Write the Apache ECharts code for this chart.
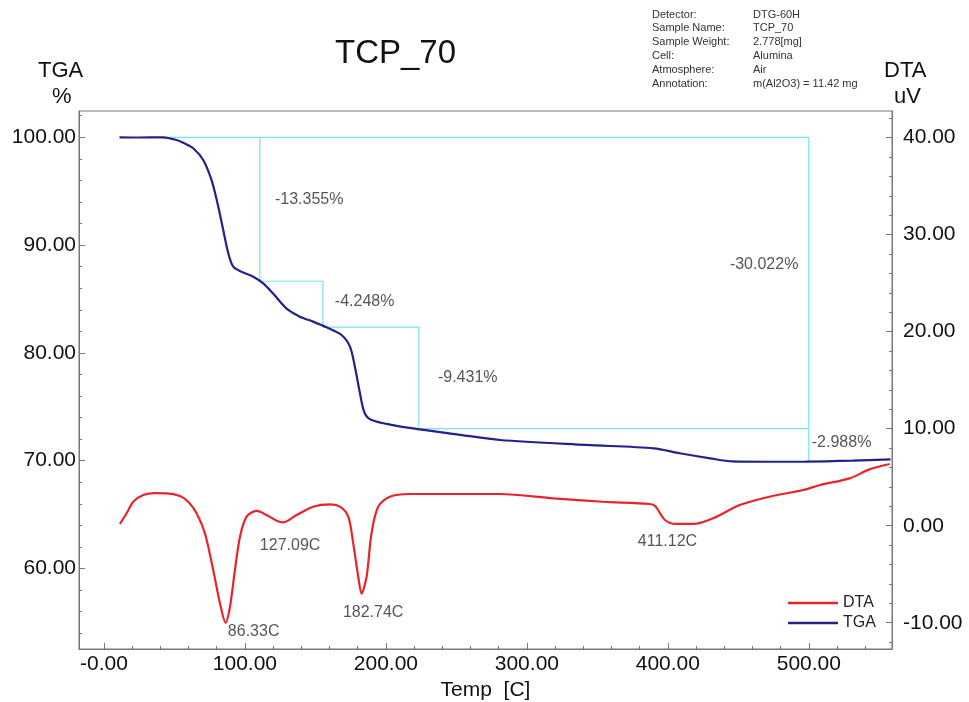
<!DOCTYPE html>
<html>
<head>
<meta charset="utf-8">
<title>TCP_70</title>
<script src="https://cdn.jsdelivr.net/npm/echarts@6/dist/echarts.min.js"></script>
<style>
  html, body { margin: 0; padding: 0; background: #fff; }
  #chart { width: 969px; height: 702px; }
</style>
</head>
<body>
<div id="chart"></div>
<script>
// TGA curve: temperature [C] / mass [%]
const tgaTemp = [11, 25, 42, 51.5, 57, 63.3, 70.4, 76.4, 81.1, 84.6, 88.2, 91.7, 97.6, 105.9, 113, 120,
  129.6, 139, 148.4, 157.9, 168.5, 174.5, 178, 181.6, 185, 189.9, 205, 224, 252.5, 281, 342, 390,
  408.5, 430, 446, 470, 498, 531, 558]
const tgaValue = [100.0, 99.98, 100.0, 99.75, 99.45, 98.98, 97.9, 96.0, 93.56, 91.4, 89.24, 88.0, 87.53,
  87.07, 86.45, 85.5, 84.1, 83.36, 82.9, 82.37, 81.66, 80.58, 78.72, 76.25, 74.4, 73.77, 73.3, 72.9,
  72.4, 71.92, 71.46, 71.15, 70.69, 70.22, 69.93, 69.9, 69.91, 70.0, 70.13]

// DTA curve: temperature [C] / signal [uV]
const dtaTemp = [11.3, 16.1, 20.8, 27.9, 36, 44.5, 53.9, 59.8, 65.7, 71.6, 77.5, 82.3, 86.3, 89.4, 92.9,
  96.5, 101.2, 108.3, 115.4, 122.5, 127.1, 136.7, 148.4, 160.3, 167.4, 173.3, 176.8, 180.4, 182.7,
  186.3, 189.8, 194.5, 202.8, 217, 250, 281, 319, 354, 387, 391, 398, 406, 418, 432, 451, 472, 496,
  508, 529, 543, 557.4]
const dtaValue = [0.18, 1.28, 2.47, 3.16, 3.35, 3.34, 3.06, 2.47, 1.28, -0.78, -4.57, -8.0, -10.0, -8.35,
  -4.57, -1.13, 0.93, 1.52, 1.1, 0.52, 0.35, 1.1, 1.96, 2.2, 1.96, 0.93, -1.8, -5.26, -7.0, -5.26,
  -0.78, 1.96, 2.99, 3.27, 3.27, 3.27, 2.82, 2.47, 2.24, 2.03, 0.59, 0.18, 0.18, 0.76, 2.13, 2.99,
  3.68, 4.2, 4.88, 5.81, 6.36]

// mass-loss steps (cyan baselines)
const stepStartTemp = 42
const stepTemps = [110.6, 155.3, 223.4, 500]
const stepLosses = [13.355, 4.248, 9.431, 2.988]
const totalLoss = 30.022

// text annotations
const lossLabels = ['-13.355%', '-4.248%', '-9.431%', '-30.022%', '-2.988%']
const lossLabelPos = [[121.3, 94.18], [163.8, 84.72], [236.9, 77.67], [444, 88.15], [502.1, 71.64]]
const peakLabels = ['86.33C', '127.09C', '182.74C', '411.12C']
const peakLabelPos = [[87.9, -10.96], [110.6, -2.09], [169.5, -9.0], [378.7, -1.68]]

// axis ticks
const xTicks = [0, 100, 200, 300, 400, 500]
const xTickLabels = ['-0.00', '100.00', '200.00', '300.00', '400.00', '500.00']
const tgaTicks = [60, 70, 80, 90, 100]
const tgaTickLabels = ['60.00', '70.00', '80.00', '90.00', '100.00']
const dtaTicks = [-10, 0, 10, 20, 30, 40]
const dtaTickLabels = ['-10.00', '0.00', '10.00', '20.00', '30.00', '40.00']

const X_MIN = -17.7, X_MAX = 559
const TGA_MIN = 52.53, TGA_MAX = 102.44
const DTA_MIN = -12.71, DTA_MAX = 42.75

const info = [
  ['Detector:', 'DTG-60H'],
  ['Sample Name:', 'TCP_70'],
  ['Sample Weight:', '2.778[mg]'],
  ['Cell:', 'Alumina'],
  ['Atmosphere:', 'Air'],
  ['Annotation:', 'm(Al2O3) = 11.42 mg']
]

function minorList(min, max, step) {
  const out = []
  for (let v = Math.ceil(min / step) * step; v <= max; v += step) out.push(+v.toFixed(4))
  return out
}

const zip = (a, b) => a.map((v, i) => [v, b[i]])

// step levels
const levels = [100]
stepLosses.slice(0, 3).forEach((l, i) => levels.push(+(levels[i] - l).toFixed(3)))
const finalLevel = +(100 - totalLoss).toFixed(3)

const outline = [[stepStartTemp, 100], [stepTemps[3], 100], [stepTemps[3], finalLevel]]
const stairs = []
for (let i = 0; i < 3; i++) {
  stairs.push([stepTemps[i], levels[i]])
  stairs.push([stepTemps[i], levels[i + 1]])
}
stairs.push([stepTemps[3], levels[3]])

const font = 'Liberation Sans, Arial, sans-serif'
const axisColor = '#777'
const cyan = '#74e3ef'

const chart = echarts.init(document.getElementById('chart'))

const graphics = [
  { type: 'text', left: 335, top: 37, style: { text: 'TCP_70', font: '33px ' + font, fill: '#111' } },
  { type: 'text', left: 38, top: 60, style: { text: 'TGA', font: '22px ' + font, fill: '#111' } },
  { type: 'text', left: 52, top: 86, style: { text: '%', font: '22px ' + font, fill: '#111' } },
  { type: 'text', left: 884, top: 60, style: { text: 'DTA', font: '22px ' + font, fill: '#111' } },
  { type: 'text', left: 894, top: 86, style: { text: 'uV', font: '22px ' + font, fill: '#111' } }
]
info.forEach((row, i) => {
  graphics.push({ type: 'text', left: 652, top: 9 + i * 13.8, style: { text: row[0], font: '11px ' + font, fill: '#333' } })
  graphics.push({ type: 'text', left: 753, top: 9 + i * 13.8, style: { text: row[1], font: '11px ' + font, fill: '#333' } })
})

const textSeries = (name, labels, pos, yIdx) => ({
  name: name,
  type: 'scatter',
  yAxisIndex: yIdx,
  symbolSize: 0,
  silent: true,
  data: pos.map((p, i) => ({ value: p, label: { formatter: labels[i] } })),
  label: {
    show: true,
    position: 'right',
    distance: 0,
    fontFamily: font,
    fontSize: 16,
    color: '#2a2a2a'
  },
  z: 5
})

const lineAxis = { show: true, onZero: false, lineStyle: { color: axisColor } }
const noLine = { show: false, onZero: false }

const option = {
  animation: false,
  textStyle: { fontFamily: font },
  graphic: graphics,
  legend: {
    data: ['DTA', 'TGA'],
    orient: 'vertical',
    left: 783,
    top: 590,
    icon: 'rect',
    itemWidth: 50,
    itemHeight: 2.5,
    itemGap: 4,
    textStyle: { fontSize: 16, color: '#222', fontFamily: font }
  },
  grid: {
    left: 79,
    right: 77,
    top: 111,
    bottom: 53,
    outerBoundsMode: 'none',
    containLabel: false,
    show: true,
    borderColor: axisColor,
    borderWidth: 1
  },
  xAxis: [
    {
      type: 'value',
      min: X_MIN,
      max: X_MAX,
      name: 'Temp  [C]',
      nameLocation: 'middle',
      nameGap: 30,
      nameTextStyle: { fontSize: 21, color: '#111', fontFamily: font },
      axisLine: lineAxis,
      axisTick: { show: true, inside: true, length: 6, customValues: xTicks, lineStyle: { color: axisColor } },
      axisLabel: {
        customValues: xTicks,
        margin: 5,
        fontSize: 21,
        color: '#111',
        formatter: (v) => xTickLabels[xTicks.indexOf(v)]
      },
      splitLine: { show: false }
    },
    {
      type: 'value',
      min: X_MIN,
      max: X_MAX,
      position: 'bottom',
      axisLine: noLine,
      axisTick: { show: true, inside: true, length: 3, customValues: minorList(X_MIN, X_MAX, 20), lineStyle: { color: axisColor } },
      axisLabel: { show: false },
      splitLine: { show: false }
    }
  ],
  yAxis: [
    {
      type: 'value',
      min: TGA_MIN,
      max: TGA_MAX,
      position: 'left',
      axisLine: lineAxis,
      axisTick: { show: true, inside: true, length: 6, customValues: tgaTicks, lineStyle: { color: axisColor } },
      axisLabel: {
        customValues: tgaTicks,
        margin: 3,
        fontSize: 21,
        color: '#111',
        formatter: (v) => tgaTickLabels[tgaTicks.indexOf(v)]
      },
      splitLine: { show: false }
    },
    {
      type: 'value',
      min: DTA_MIN,
      max: DTA_MAX,
      position: 'right',
      axisLine: lineAxis,
      axisTick: { show: true, inside: true, length: 6, customValues: dtaTicks, lineStyle: { color: axisColor } },
      axisLabel: {
        customValues: dtaTicks,
        margin: 11,
        fontSize: 21,
        color: '#111',
        formatter: (v) => dtaTickLabels[dtaTicks.indexOf(v)]
      },
      splitLine: { show: false }
    },
    {
      type: 'value',
      min: TGA_MIN,
      max: TGA_MAX,
      position: 'left',
      axisLine: noLine,
      axisTick: { show: true, inside: true, length: 3, customValues: minorList(TGA_MIN, TGA_MAX, 2), lineStyle: { color: axisColor } },
      axisLabel: { show: false },
      splitLine: { show: false }
    },
    {
      type: 'value',
      min: DTA_MIN,
      max: DTA_MAX,
      position: 'right',
      axisLine: noLine,
      axisTick: { show: true, inside: true, length: 3, customValues: minorList(DTA_MIN, DTA_MAX, 2), lineStyle: { color: axisColor } },
      axisLabel: { show: false },
      splitLine: { show: false }
    }
  ],
  series: [
    {
      name: 'steps',
      type: 'line',
      yAxisIndex: 0,
      symbol: 'none',
      silent: true,
      lineStyle: { color: cyan, width: 1.2 },
      data: outline,
      z: 1
    },
    {
      name: 'stairs',
      type: 'line',
      yAxisIndex: 0,
      symbol: 'none',
      silent: true,
      lineStyle: { color: cyan, width: 1.2 },
      data: stairs,
      z: 1
    },
    {
      name: 'DTA',
      type: 'line',
      yAxisIndex: 1,
      symbol: 'none',
      smooth: 0.3,
      color: '#e8232b',
      lineStyle: { width: 2.2 },
      data: zip(dtaTemp, dtaValue),
      z: 3
    },
    {
      name: 'TGA',
      type: 'line',
      yAxisIndex: 0,
      symbol: 'none',
      smooth: 0.3,
      color: '#22228a',
      lineStyle: { width: 2.2 },
      data: zip(tgaTemp, tgaValue),
      z: 4
    },
    textSeries('lossText', lossLabels, lossLabelPos, 0),
    textSeries('peakText', peakLabels, peakLabelPos, 1)
  ]
}

chart.setOption(option)
window.addEventListener('resize', () => chart.resize())
</script>
</body>
</html>
